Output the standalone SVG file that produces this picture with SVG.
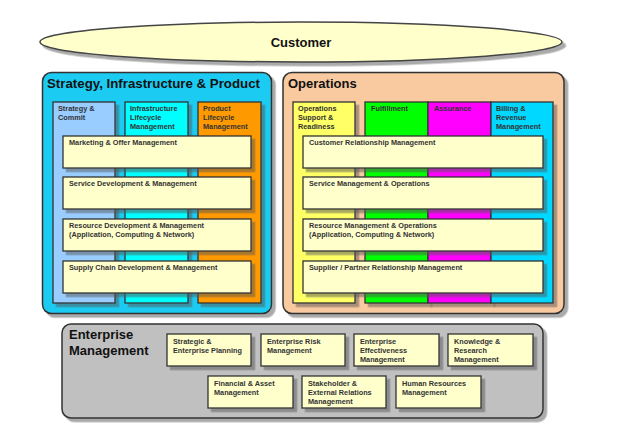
<svg xmlns="http://www.w3.org/2000/svg" width="620" height="439" viewBox="0 0 620 439">
<defs>
<filter id="sh" x="-10%" y="-10%" width="130%" height="130%">
<feDropShadow dx="3.5" dy="3.5" stdDeviation="0.6" flood-color="#555" flood-opacity="0.5"/>
</filter>
</defs>
<style>
.pan{stroke:#333;stroke-width:1.5;filter:url(#sh)}
.col{stroke:#333;stroke-width:1.3;filter:url(#sh)}
.box{fill:#FFFFCC;stroke:#333;stroke-width:1.3;filter:url(#sh)}
.t{font-family:"Liberation Sans",Arial,sans-serif;font-weight:bold;fill:#333;font-size:7.3px}
.h{font-family:"Liberation Sans",Arial,sans-serif;font-weight:bold;fill:#111}
</style>
<rect width="620" height="439" fill="#fff"/>
<g id="customer">
<ellipse cx="301" cy="42" rx="261" ry="20" fill="#FFFFCC" stroke="#444" stroke-width="1.5" filter="url(#sh)"/>
<text class="h" x="301" y="47" font-size="13" text-anchor="middle">Customer</text>
</g>
<g id="sip">
<rect class="pan" x="42.5" y="72.5" width="229" height="241" rx="9" fill="#1FCBF2"/>
<text class="h" x="47" y="88" font-size="13" textLength="213" lengthAdjust="spacingAndGlyphs">Strategy, Infrastructure &amp; Product</text>
<rect class="col" x="53" y="102" width="62" height="201" fill="#99CCFF"/>
<rect class="col" x="125" y="102" width="63" height="201" fill="#00FFFF"/>
<rect class="col" x="198" y="102" width="63" height="201" fill="#FF9900"/>
<text class="t" x="58" y="111">Strategy &amp;</text>
<text class="t" x="58" y="120">Commit</text>
<text class="t" x="130" y="111">Infrastructure</text>
<text class="t" x="130" y="120">Lifecycle</text>
<text class="t" x="130" y="129">Management</text>
<text class="t" x="203" y="111">Product</text>
<text class="t" x="203" y="120">Lifecycle</text>
<text class="t" x="203" y="129">Management</text>
<rect class="box" x="63" y="136" width="188" height="32"/>
<text class="t" x="69" y="145">Marketing &amp; Offer Management</text>
<rect class="box" x="63" y="177" width="188" height="32"/>
<text class="t" x="69" y="186">Service Development &amp; Management</text>
<rect class="box" x="63" y="219" width="188" height="32"/>
<text class="t" x="69" y="228">Resource Development &amp; Management</text>
<text class="t" x="69" y="237">(Application, Computing &amp; Network)</text>
<rect class="box" x="63" y="261" width="188" height="32"/>
<text class="t" x="69" y="270">Supply Chain Development &amp; Management</text>
</g>
<g id="ops">
<rect class="pan" x="283" y="72.5" width="281" height="241" rx="9" fill="#F9C9A0"/>
<text class="h" x="288" y="88" font-size="13">Operations</text>
<rect class="col" x="293" y="102" width="62" height="201" fill="#FFFF66"/>
<rect class="col" x="365" y="102" width="63" height="201" fill="#00FF00"/>
<rect class="col" x="428" y="102" width="63" height="201" fill="#FF00FF"/>
<rect class="col" x="491" y="102" width="62" height="201" fill="#00D8FF"/>
<text class="t" x="298" y="111">Operations</text>
<text class="t" x="298" y="120">Support &amp;</text>
<text class="t" x="298" y="129">Readiness</text>
<text class="t" x="371" y="111">Fulfillment</text>
<text class="t" x="434" y="111">Assurance</text>
<text class="t" x="496" y="111">Billing &amp;</text>
<text class="t" x="496" y="120">Revenue</text>
<text class="t" x="496" y="129">Management</text>
<rect class="box" x="303" y="136" width="240" height="32"/>
<text class="t" x="309" y="145">Customer Relationship Management</text>
<rect class="box" x="303" y="177" width="240" height="32"/>
<text class="t" x="309" y="186">Service Management &amp; Operations</text>
<rect class="box" x="303" y="219" width="240" height="32"/>
<text class="t" x="309" y="228">Resource Management &amp; Operations</text>
<text class="t" x="309" y="237">(Application, Computing &amp; Network)</text>
<rect class="box" x="303" y="261" width="240" height="32"/>
<text class="t" x="309" y="270">Supplier / Partner Relationship Management</text>
</g>
<g id="em">
<rect class="pan" x="62" y="324" width="481" height="94" rx="9" fill="#C0C0C0"/>
<text class="h" x="69" y="339" font-size="13">Enterprise</text>
<text class="h" x="69" y="355" font-size="13">Management</text>
<rect class="box" x="167" y="334" width="84" height="32"/>
<text class="t" x="173" y="344">Strategic &amp;</text>
<text class="t" x="173" y="353">Enterprise Planning</text>
<rect class="box" x="261" y="334" width="84" height="32"/>
<text class="t" x="267" y="344">Enterprise Risk</text>
<text class="t" x="267" y="353">Management</text>
<rect class="box" x="354" y="334" width="85" height="32"/>
<text class="t" x="360" y="344">Enterprise</text>
<text class="t" x="360" y="353">Effectiveness</text>
<text class="t" x="360" y="362">Management</text>
<rect class="box" x="448" y="334" width="85" height="32"/>
<text class="t" x="454" y="344">Knowledge &amp;</text>
<text class="t" x="454" y="353">Research</text>
<text class="t" x="454" y="362">Management</text>
<rect class="box" x="208" y="376" width="85" height="32"/>
<text class="t" x="214" y="386">Financial &amp; Asset</text>
<text class="t" x="214" y="395">Management</text>
<rect class="box" x="302" y="376" width="84" height="32"/>
<text class="t" x="308" y="386">Stakeholder &amp;</text>
<text class="t" x="308" y="395">External Relations</text>
<text class="t" x="308" y="404">Management</text>
<rect class="box" x="396" y="376" width="85" height="32"/>
<text class="t" x="402" y="386">Human Resources</text>
<text class="t" x="402" y="395">Management</text>
</g>
<g id="connectors"/>
</svg>
